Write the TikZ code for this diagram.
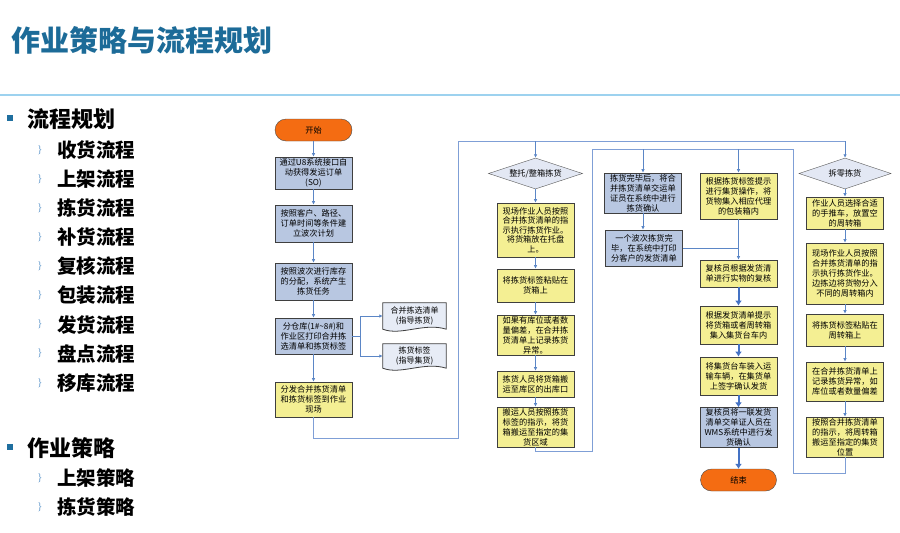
\documentclass[tikz,border=0pt]{standalone}
\usepackage{fontspec}
\newfontfamily\cjk{Noto Sans CJK SC}
\usetikzlibrary{arrows.meta,calc,positioning,shapes.geometric,backgrounds}
\definecolor{titleblue}{HTML}{1C6B98}
\definecolor{rulelight}{HTML}{9DD2EF}
\definecolor{bulletblue}{HTML}{1F6F9F}
\definecolor{subbullet}{HTML}{3A7FBF}
\definecolor{linkblue}{HTML}{5B86C6}
\definecolor{loopblue}{HTML}{7F9FD6}
\definecolor{flowblue}{HTML}{4472C4}
\definecolor{boxblue}{HTML}{B8C7E1}
\definecolor{boxyellow}{HTML}{F4EF93}
\definecolor{diapale}{HTML}{E3E8F4}
\definecolor{docpale}{HTML}{E7ECF6}
\definecolor{termorange}{HTML}{F46C12}
\definecolor{edgegray}{HTML}{3F3F3F}

\begin{document}
\begin{tikzpicture}[x=1pt,y=-1pt,
  box/.style={draw=edgegray,line width=0.8pt,minimum width=77pt,text width=74pt,
    align=center,inner sep=1pt,font=\cjk\fontsize{8.2}{10}\selectfont},
  bluebox/.style={box,fill=boxblue},
  yellowbox/.style={box,fill=boxyellow},
  decision/.style={diamond,aspect=3,draw=gray!70!black,fill=diapale,inner sep=0pt,
    minimum width=94pt,minimum height=31pt,font=\cjk\fontsize{8.2}{10}\selectfont},
  terminal/.style={rectangle,rounded corners=11pt,draw=gray!60!black,fill=termorange,
    minimum width=77pt,minimum height=22pt,font=\cjk\fontsize{8.2}{10}\selectfont},
  docnode/.style={minimum width=63pt,text width=60pt,align=center,inner sep=0pt,
    font=\cjk\fontsize{8}{10}\selectfont},
  flow/.style={linkblue,line width=0.7pt,-{Latex[length=3.5pt,width=3.5pt]}},
  bigflow/.style={flowblue,line width=2pt,-{Latex[length=5pt,width=7pt]}},
  linkline/.style={linkblue,line width=0.7pt},
  loopline/.style={loopblue,line width=0.9pt},
  headitem/.style={anchor=west,inner sep=0pt,font=\cjk\bfseries\fontsize{22}{22}\selectfont},
  subitem/.style={anchor=west,inner sep=0pt,font=\cjk\bfseries\fontsize{19.5}{20}\selectfont},
  bulletsq/.style={fill=bulletblue,minimum size=6pt,inner sep=0pt},
  subbul/.style={subbullet,inner sep=0pt,font=\fontsize{9}{9}\selectfont}]
  \useasboundingbox (0,0) rectangle (900,533);

  % title and rule
  \node[anchor=west,inner sep=0pt,titleblue,font=\cjk\bfseries\fontsize{29}{29}\selectfont] (title) at (11,40) {作业策略与流程规划};
  \draw[rulelight,line width=2.5pt] (0,95) -- (900,95);

  % left list
  \node[bulletsq] (sqflow) at (10,118) {};
  \node[headitem] (flowhead) at (27,119) {流程规划};
  \foreach \t [count=\i] in {收货流程,上架流程,拣货流程,补货流程,复核流程,包装流程,发货流程,盘点流程,移库流程}{
    \node[subbul] (fb\i) at (40,{150+29.1*(\i-1)}) {\}};
    \node[subitem] (fi\i) at (57,{150+29.1*(\i-1)}) {\t};
  }
  \node[bulletsq] (sqplan) at (10,447) {};
  \node[headitem] (planhead) at (27,448) {作业策略};
  \foreach \t [count=\i] in {上架策略,拣货策略}{
    \node[subbul] (pb\i) at (40,{478+29*(\i-1)}) {\}};
    \node[subitem] (pi\i) at (57,{478+29*(\i-1)}) {\t};
  }

  % column 1
  \node[terminal] (start) at (313.5,130) {开始};
  \node[bluebox,minimum height=32pt] (getso) at (313.5,173) {通过U8系统接口自\\动获得发运订单\\(SO)};
  \node[bluebox,minimum height=37pt] (wave) at (313.5,223.5) {按照客户、路径、\\订单时间等条件建\\立波次计划};
  \node[bluebox,minimum height=37pt] (alloc) at (313.5,281.5) {按照波次进行库存\\的分配，系统产生\\拣货任务};
  \node[bluebox,minimum height=36pt] (printlist) at (313.5,336) {分仓库(1\#\textasciitilde8\#)和\\作业区打印合并拣\\选清单和拣货标签};
  \node[yellowbox,minimum height=35pt] (dispatch) at (313.5,399.5) {分发合并拣货清单\\和拣货标签到作业\\现场};
  \node[docnode,minimum height=26pt] (doclist) at (414.5,316) {合并拣选清单\\(指导拣货)};
  \node[docnode,minimum height=24pt] (doclabel) at (414.5,356) {拣货标签\\(指导集货)};
  \begin{scope}[on background layer]
    \fill[white] (0,0) rectangle (900,533);
    \foreach \d in {doclist,doclabel}
      \draw[fill=docpale,draw=edgegray,line width=0.8pt] (\d.north west) -- (\d.north east) -- (\d.south east)
        .. controls ($(\d.south east)+(-22,-7)$) and ($(\d.south west)+(18,7)$) .. (\d.south west) -- cycle;
  \end{scope}

  % column 2
  \node[decision] (palletdec) at (535.5,173.5) {整托/整箱拣货};
  \node[yellowbox,minimum height=54pt,font=\cjk\fontsize{8.2}{9.4}\selectfont] (palletpick) at (535.5,230) {现场作业人员按照\\合并拣货清单的指\\示执行拣货作业。\\将货箱放在托盘\\上。};
  \node[yellowbox,minimum height=33pt] (pallettag) at (535.5,285.5) {将拣货标签粘贴在\\货箱上};
  \node[yellowbox,minimum height=40pt] (palletlog) at (535.5,335) {如果有库位或者数\\量偏差，在合并拣\\货清单上记录拣货\\异常。};
  \node[yellowbox,minimum height=26pt] (palletmove) at (535.5,384) {拣货人员将货箱搬\\运至库区的出库口};
  \node[yellowbox,minimum height=40pt] (pallethaul) at (535.5,427) {搬运人员按照拣货\\标签的指示，将货\\箱搬运至指定的集\\货区域};

  % column 3
  \node[bluebox,minimum height=40pt] (confirm) at (643,193) {拣货完毕后，将合\\并拣货清单交运单\\证员在系统中进行\\拣货确认};
  \node[bluebox,minimum height=36pt] (shiplist) at (644,248) {一个波次拣货完\\毕，在系统中打印\\分客户的发货清单};

  % column 4
  \node[yellowbox,minimum height=46pt] (consol) at (738.5,196) {根据拣货标签提示\\进行集货操作，将\\货物集入相应代理\\的包装箱内};
  \node[yellowbox,minimum height=27pt] (recheck) at (738.5,273.5) {复核员根据发货清\\单进行实物的复核};
  \node[yellowbox,minimum height=38pt] (cartload) at (738.5,325) {根据发货清单提示\\将货箱或者周转箱\\集入集货台车内};
  \node[yellowbox,minimum height=38pt] (truckload) at (738.5,376) {将集货台车装入运\\输车辆，在集货单\\上签字确认发货};
  \node[bluebox,minimum height=37pt] (shipok) at (738.5,427.5) {复核员将一联发货\\清单交单证人员在\\WMS系统中进行发\\货确认};
  \node[terminal,minimum width=76pt] (finish) at (738.5,480) {结束};

  % column 5
  \node[decision,minimum width=92pt] (piecedec) at (845,173.5) {拆零拣货};
  \node[yellowbox,minimum height=32pt] (piececart) at (845,213) {作业人员选择合适\\的手推车，放置空\\的周转箱};
  \node[yellowbox,minimum height=61pt] (piecepick) at (845,273.5) {现场作业人员按照\\合并拣货清单的指\\示执行拣货作业。\\边拣边将货物分入\\不同的周转箱内};
  \node[yellowbox,minimum height=32pt] (piecetag) at (845,330) {将拣货标签粘贴在\\周转箱上};
  \node[yellowbox,minimum height=39pt] (piecelog) at (845,381.5) {在合并拣货清单上\\记录拣货异常，如\\库位或者数量偏差};
  \node[yellowbox,minimum height=40pt] (piecehaul) at (845,437) {按照合并拣货清单\\的指示，将周转箱\\搬运至指定的集货\\位置};

  % column arrows
  \draw[flow] (start) -- (getso);
  \draw[flow] (getso) -- (wave);
  \draw[flow] (wave) -- (alloc);
  \draw[flow] (alloc) -- (printlist);
  \draw[flow] (printlist) -- (dispatch);
  \coordinate (fork) at (360,336);
  \draw[linkline] (printlist.east) -- (fork);
  \draw[flow] (fork) |- (doclist.west);
  \draw[flow] (fork) |- (doclabel.west);

  \draw[flow] (palletdec) -- (palletpick);
  \draw[flow] (palletpick) -- (pallettag);
  \draw[flow] (pallettag) -- (palletlog);
  \draw[flow] (palletlog) -- (palletmove);
  \draw[flow] (palletmove) -- (pallethaul);

  \draw[flow] (confirm) -- (shiplist.north -| confirm.south);
  \draw[linkline] (shiplist.east) -- (shiplist.east -| recheck.north);
  \draw[flow] (consol) -- (recheck);
  \draw[bigflow] (recheck) -- (cartload);
  \draw[bigflow] (cartload) -- (truckload);
  \draw[bigflow] (truckload) -- (shipok);
  \draw[bigflow] (shipok) -- (finish);

  \draw[flow] (piecedec) -- (piececart);
  \draw[flow] (piececart) -- (piecepick);
  \draw[flow] (piecepick) -- (piecetag);
  \draw[flow] (piecetag) -- (piecelog);
  \draw[flow] (piecelog) -- (piecehaul);

  % loop from dispatch to both picking modes
  \coordinate (aLow) at (458,438);
  \coordinate (aTop) at (458,141);
  \draw[loopline] (dispatch.south) |- (aLow) -- (aTop) -- (aTop -| piecedec.north);
  \draw[flow] (palletdec.north |- aTop) -- (palletdec.north);
  \draw[flow] (piecedec.north |- aTop) -- (piecedec.north);

  % loop from both hauls to confirmation and consolidation
  \coordinate (bLow) at (592,451);
  \coordinate (bTop) at (592,149);
  \coordinate (bTurn) at (793,149);
  \coordinate (bDown) at (793,473);
  \draw[loopline] (pallethaul.south) |- (bLow) -- (bTop) -- (bTurn) -- (bDown) -| (piecehaul.south);
  \draw[flow] (confirm.north |- bTop) -- (confirm.north);
  \draw[flow] (consol.north |- bTop) -- (consol.north);
\end{tikzpicture}
\end{document}
